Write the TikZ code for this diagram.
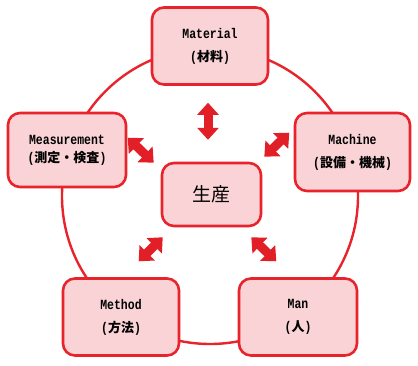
\documentclass[tikz,border=0pt]{standalone}
\usepackage{fontspec}
\setmainfont{Liberation Mono}[FakeStretch=0.82]
\newfontfamily\jpfont{Noto Sans CJK JP}
\usetikzlibrary{arrows.meta}
\definecolor{fcred}{HTML}{E8232B}
\definecolor{fcpink}{HTML}{FAD3D6}
\definecolor{arrred}{HTML}{E21E26}
\newcommand{\jpt}[1]{{\jpfont\fontsize{13}{18}\selectfont #1}}

\begin{document}
\begin{tikzpicture}[x=1pt,y=-1pt,
  mbox/.style={draw=fcred, fill=fcpink, line width=2.6pt, rounded corners=12pt,
    minimum width=116pt, minimum height=77pt, align=center, inner sep=0pt,
    font=\bfseries\fontsize{14}{18}\selectfont},
  duo/.style={draw=arrred, line width=9pt,
    {Triangle[width=21pt,length=12pt]}-{Triangle[width=21pt,length=12pt]}}]
  \useasboundingbox[fill=white] (0,0) rectangle (418,366);
  \draw[fcred, line width=2.4pt] (210,196) circle[radius=148];
  \node[mbox] (material) at (210,46) {Material\\[5pt](\jpt{材料})};
  \node[mbox, minimum width=118pt, minimum height=74pt] (measure) at (67,150) {Measurement\\(\jpt{測定・検査})};
  \node[mbox, minimum width=115pt, minimum height=78pt] (machine) at (352.5,152) {Machine\\[5pt](\jpt{設備・機械})};
  \node[mbox] (method) at (121,317) {Method\\[5pt](\jpt{方法})};
  \node[mbox, minimum width=118pt] (man) at (298,317) {Man\\[5pt](\jpt{人})};
  \node[mbox, minimum width=99pt, minimum height=63pt, font=\jpfont\fontsize{19}{20}\selectfont] (prod) at (211.5,194.5) {生産};
  \draw[duo] ([shift={(-2pt,-17pt)}]material.south) -- ++(0,37);
  \draw[duo] ([shift={(-7pt,-1pt)}]prod.north west) -- ++(-26,-25);
  \draw[duo] ([shift={(2pt,5pt)}]prod.north east) -- ++(25,-24);
  \draw[duo] ([shift={(2pt,-10pt)}]prod.south west) -- ++(-24,24);
  \draw[duo] ([shift={(-11pt,-10pt)}]prod.south east) -- ++(25,24);
\end{tikzpicture}
\end{document}
